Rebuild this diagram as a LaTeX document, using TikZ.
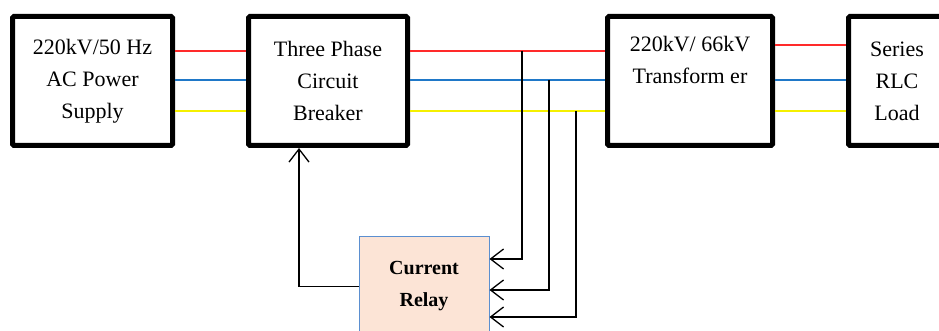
\documentclass[tikz,border=0pt]{standalone}
\usepackage{fontspec}
\setmainfont{Liberation Serif}
\usetikzlibrary{arrows.meta}

\definecolor{phaseR}{HTML}{FF2A2A}
\definecolor{phaseB}{HTML}{1F78C8}
\definecolor{phaseY}{HTML}{F5F000}
\definecolor{relayfill}{HTML}{FCE4D6}
\definecolor{relayedge}{HTML}{5B8FD0}

\tikzset{
  block/.style={draw, line width=5pt, rounded corners=1.5pt, fill=white,
    minimum height=129pt, inner sep=0pt, align=center,
    font=\fontsize{22}{32}\selectfont},
  relaybox/.style={draw=relayedge, line width=1pt, fill=relayfill,
    minimum width=130pt, minimum height=100pt, align=center,
    font=\fontsize{20}{32}\selectfont\bfseries},
  phase/.style={line width=1.6pt},
  signal/.style={line width=1.3pt, ->},
  >={Straight Barb[length=13pt,width=20pt,line width=1.3pt]}
}

\begin{document}
\begin{tikzpicture}[x=1pt,y=-1pt]
\useasboundingbox (0,0) rectangle (939,331);

\node[block, minimum width=160pt] (supply) at (92.5,81) {220kV/50 Hz\\AC Power\\Supply};
\node[block, minimum width=159pt] (breaker) at (328,81) {Three Phase\\Circuit\\Breaker};
\node[block, minimum width=165pt] (trafo) at (690,81) {220kV/ 66kV\\Transform er\\\strut};
\node[block, minimum width=97pt] (load) at (897,81) {Series\\RLC\\Load};

\node[relaybox, anchor=north] (relay) at (424,236) {Current\\Relay};

% three phase lines
\draw[phase, phaseR] ([yshift=30pt]supply.east) -- ([yshift=30pt]breaker.west);
\draw[phase, phaseB] ([yshift=1pt]supply.east) -- ([yshift=1pt]breaker.west);
\draw[phase, phaseY] ([yshift=-30pt]supply.east) -- ([yshift=-30pt]breaker.west);

\draw[phase, phaseR] ([yshift=30pt]breaker.east) -- ([yshift=30pt]trafo.west);
\draw[phase, phaseB] ([yshift=1pt]breaker.east) -- ([yshift=1pt]trafo.west);
\draw[phase, phaseY] ([yshift=-30pt]breaker.east) -- ([yshift=-30pt]trafo.west);

\draw[phase, phaseR] ([yshift=36pt]trafo.east) -- ([yshift=36pt]load.west);
\draw[phase, phaseB] ([yshift=1pt]trafo.east) -- ([yshift=1pt]load.west);
\draw[phase, phaseY] ([yshift=-30pt]trafo.east) -- ([yshift=-30pt]load.west);

% current sensing taps
\coordinate (tapR) at (522,51);
\coordinate (tapB) at (549,80);
\coordinate (tapY) at (576,111);
\draw[signal] (tapR) |- ([yshift=-23pt]relay.north east);
\draw[signal] (tapB) |- ([yshift=-54pt]relay.north east);
\draw[signal] (tapY) |- ([yshift=-81pt]relay.north east);

% trip signal
\draw[signal] (relay.west) -| ([xshift=-29pt]breaker.south);
\end{tikzpicture}
\end{document}
